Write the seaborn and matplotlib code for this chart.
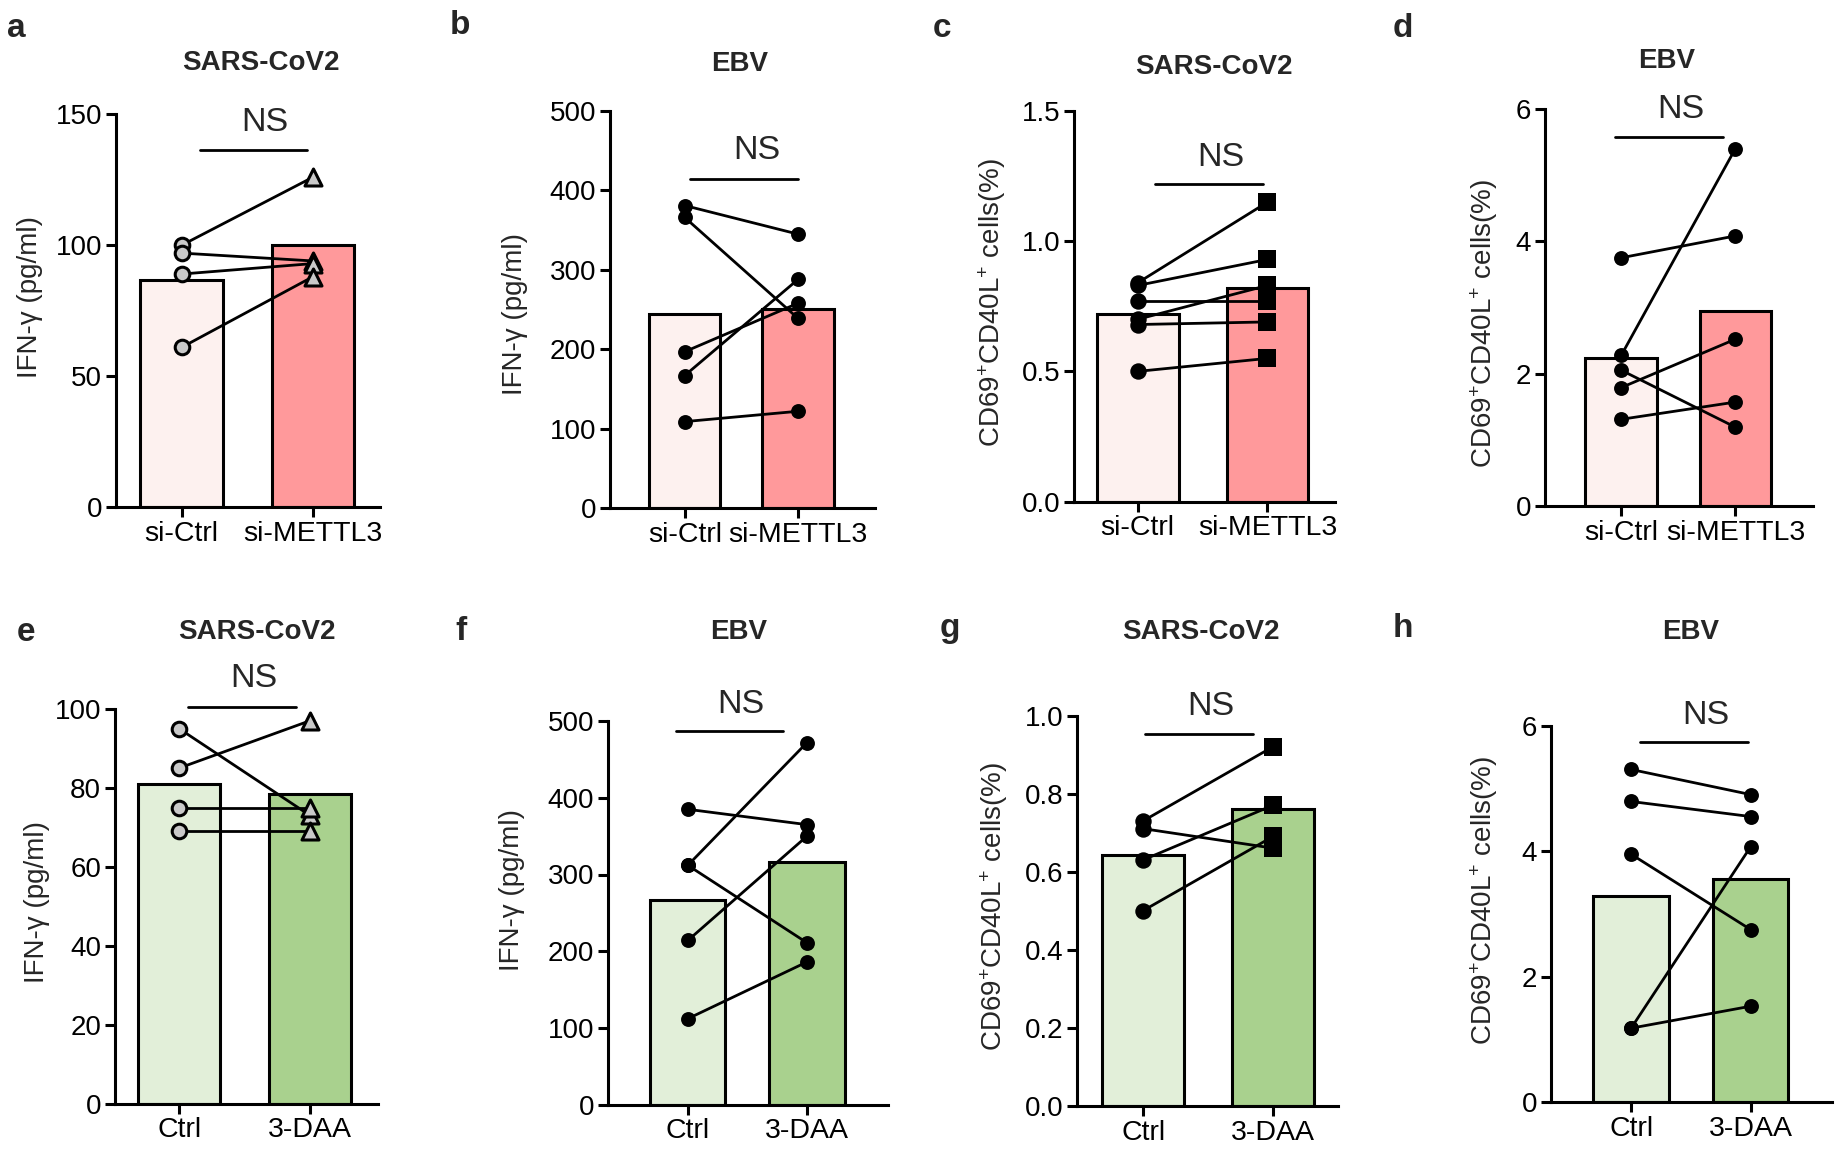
import pandas as pd
import matplotlib
matplotlib.use('Agg')
import matplotlib.pyplot as plt
from matplotlib.lines import Line2D
import seaborn as sns

sns.set_style('ticks')
plt.rcParams['font.family'] = ['Liberation Sans', 'DejaVu Sans']
plt.rcParams['mathtext.fontset'] = 'custom'
plt.rcParams['mathtext.rm'] = 'Liberation Sans'
plt.rcParams['mathtext.it'] = 'Liberation Sans:italic'
plt.rcParams['mathtext.bf'] = 'Liberation Sans:bold'

# ---------------- data ----------------
groups_si = ['si-Ctrl', 'si-METTL3']
groups_daa = ['Ctrl', '3-DAA']

a_ctrl = [100, 97, 89, 61]
a_trt = [126, 94, 93, 88]
b_ctrl = [381, 366, 197, 167, 109]
b_trt = [345, 239, 258, 288, 122]
c_ctrl = [0.84, 0.83, 0.77, 0.70, 0.68, 0.50]
c_trt = [1.15, 0.93, 0.77, 0.83, 0.69, 0.55]
d_ctrl = [3.75, 2.28, 2.05, 1.79, 1.31]
d_trt = [4.08, 5.40, 1.19, 2.52, 1.57]
e_ctrl = [95, 85, 75, 69]
e_trt = [73, 97, 75, 69]
f_ctrl = [385, 312, 312, 214, 112]
f_trt = [365, 472, 211, 350, 186]
g_ctrl = [0.73, 0.71, 0.63, 0.50]
g_trt = [0.92, 0.66, 0.77, 0.69]
h_ctrl = [5.30, 4.79, 3.95, 1.18, 1.18]
h_trt = [4.90, 4.55, 2.75, 4.07, 1.53]

ifn_label = 'IFN-γ (pg/ml)'
cd_label = r'CD69$^{+}$CD40L$^{+}$ cells(%)'

pink = ['#FDF1EF', '#FF999B']
green = ['#E2EFD9', '#A9D18E']

W, H = 1841, 1156
fig = plt.figure(figsize=(W / 100, H / 100), dpi=100)


def fx(x):
    return x / W


def fy(y):
    return 1 - y / H


# layout in pixels (x from left, y from top)
panels = [
    dict(letter='a', title='SARS-CoV2', groups=groups_si, ctrl=a_ctrl, trt=a_trt, colors=pink,
         mk=('o', '^'), open_mk=True, ymax=150, yticks=[0, 50, 100, 150], ylabel=ifn_label,
         box=(116, 114.3, 380, 507.1), xlim=(-0.5, 1.51), lab=(-0.277, 0.534),
         lpos=(7, 36.6), tpos=(261, 63.3), ns=(200, 307, 149.8), nst=(265, 122.1)),
    dict(letter='b', title='EBV', groups=groups_si, ctrl=b_ctrl, trt=b_trt, colors=pink,
         mk=('o', 'o'), open_mk=False, ymax=500, yticks=[0, 100, 200, 300, 400, 500], ylabel=ifn_label,
         box=(610, 111.0, 875, 508.2), xlim=(-0.66, 1.68), lab=(-0.31, 0.49),
         lpos=(450, 34.4), tpos=(740, 64.4), ns=(690, 798, 178.7), nst=(757, 150.9)),
    dict(letter='c', title='SARS-CoV2', groups=groups_si, ctrl=c_ctrl, trt=c_trt, colors=pink,
         mk=('o', 's'), open_mk=False, ymax=1.5, yticks=[0.0, 0.5, 1.0, 1.5], ylabel=cd_label,
         box=(1074, 111.0, 1335, 501.6), xlim=(-0.49, 1.52), lab=(-0.253, 0.51),
         lpos=(933, 36.6), tpos=(1214, 66.6), ns=(1155, 1263, 184.2), nst=(1221, 157.6)),
    dict(letter='d', title='EBV', groups=groups_si, ctrl=d_ctrl, trt=d_trt, colors=pink,
         mk=('o', 'o'), open_mk=False, ymax=6, yticks=[0, 2, 4, 6], ylabel=cd_label,
         box=(1545, 108.8, 1813, 506.0), xlim=(-0.67, 1.68), lab=(-0.168, 0.46),
         lpos=(1393, 36.6), tpos=(1667, 61.0), ns=(1615, 1723, 136.5), nst=(1681, 109.9)),
    dict(letter='e', title='SARS-CoV2', groups=groups_daa, ctrl=e_ctrl, trt=e_trt, colors=green,
         mk=('o', '^'), open_mk=True, ymax=100, yticks=[0, 20, 40, 60, 80, 100], ylabel=ifn_label,
         box=(115, 708.9, 378, 1103.5), xlim=(-0.49, 1.52), lab=(-0.247, 0.51),
         lpos=(17, 640.6), tpos=(257, 631.8), ns=(188, 296, 706.7), nst=(254, 678.1)),
    dict(letter='f', title='EBV', groups=groups_daa, ctrl=f_ctrl, trt=f_trt, colors=green,
         mk=('o', 'o'), open_mk=False, ymax=500, yticks=[0, 100, 200, 300, 400, 500], ylabel=ifn_label,
         box=(608, 721.1, 888, 1104.6), xlim=(-0.67, 1.68), lab=(-0.296, 0.56),
         lpos=(455, 639.5), tpos=(739, 631.8), ns=(676, 783, 731.0), nst=(741, 704.5)),
    dict(letter='g', title='SARS-CoV2', groups=groups_daa, ctrl=g_ctrl, trt=g_trt, colors=green,
         mk=('o', 's'), open_mk=False, ymax=1.0, yticks=[0.0, 0.2, 0.4, 0.6, 0.8, 1.0], ylabel=cd_label,
         box=(1077, 715.5, 1338, 1105.7), xlim=(-0.51, 1.50), lab=(-0.257, 0.51),
         lpos=(940, 637.3), tpos=(1201, 631.8), ns=(1145, 1253, 734.3), nst=(1211, 706.7)),
    dict(letter='h', title='EBV', groups=groups_daa, ctrl=h_ctrl, trt=h_trt, colors=green,
         mk=('o', 'o'), open_mk=False, ymax=6, yticks=[0, 2, 4, 6], ylabel=cd_label,
         box=(1551, 725.5, 1832, 1102.3), xlim=(-0.67, 1.68), lab=(-0.181, 0.535),
         lpos=(1393, 637.3), tpos=(1691, 631.8), ns=(1640, 1748, 742.0), nst=(1706, 715.5)),
]

LW = 2.2

for p in panels:
    l, t, r, b = p['box']
    ax = fig.add_axes([fx(l), fy(b), (r - l) / W, (b - t) / H])

    n = len(p['ctrl'])
    df = pd.DataFrame({
        'group': [p['groups'][0]] * n + [p['groups'][1]] * n,
        'pos': [0] * n + [1] * n,
        'value': p['ctrl'] + p['trt'],
        'pair': list(range(n)) * 2,
    })

    sns.barplot(data=df, x='group', y='value', hue='group', order=p['groups'],
                hue_order=p['groups'], palette=p['colors'], errorbar=None,
                width=0.63, edgecolor='black', linewidth=LW, legend=False,
                saturation=1, ax=ax, zorder=1)

    sns.lineplot(data=df, x='pos', y='value', units='pair', estimator=None,
                 color='black', linewidth=2.0, ax=ax, zorder=3)

    for i, side in enumerate([p['ctrl'], p['trt']]):
        m = p['mk'][i]
        if p['open_mk']:
            s = 110 if m == 'o' else 150
            sns.scatterplot(x=[i] * n, y=side, marker=m, s=s, color='#C9C9C9',
                            edgecolor='black', linewidth=2.2, ax=ax, zorder=4)
        else:
            if m == 's':
                s = 180
            elif p['mk'][1] == 's':
                s = 140
            else:
                s = 115
            sns.scatterplot(x=[i] * n, y=side, marker=m, s=s, color='black',
                            edgecolor='black', linewidth=0, ax=ax, zorder=4)

    ax.set_xlim(*p['xlim'])
    ax.set_ylim(0, p['ymax'])
    ax.set_yticks(p['yticks'])
    ax.set_xticks([0, 1])
    ax.set_xticklabels(p['groups'])
    ax.set_xlabel('')
    ax.set_ylabel(p['ylabel'], fontsize=20)
    ax.yaxis.set_label_coords(*p['lab'])
    sns.despine(ax=ax)
    for sp in ['left', 'bottom']:
        ax.spines[sp].set_linewidth(LW)
        ax.spines[sp].set_color('black')
    ax.tick_params(axis='both', direction='out', length=7, width=LW, color='black',
                   labelsize=20, pad=3, labelcolor='black')
    ax.tick_params(axis='x', labelsize=20.5)
    ax.set_facecolor('none')

    # panel letter, title, NS bracket
    fig.text(fx(p['lpos'][0]), fy(p['lpos'][1]), p['letter'], fontsize=24,
             fontweight='bold', ha='left', va='baseline')
    fig.text(fx(p['tpos'][0]), fy(p['tpos'][1]), p['title'], fontsize=20,
             fontweight='bold', ha='center', va='center')
    x0, x1, yl = p['ns']
    fig.add_artist(Line2D([fx(x0), fx(x1)], [fy(yl), fy(yl)], color='black', lw=2.0))
    fig.text(fx(p['nst'][0]), fy(p['nst'][1]), 'NS', fontsize=24.5, ha='center', va='center')

fig.savefig('out.png', dpi=100, facecolor='white')
